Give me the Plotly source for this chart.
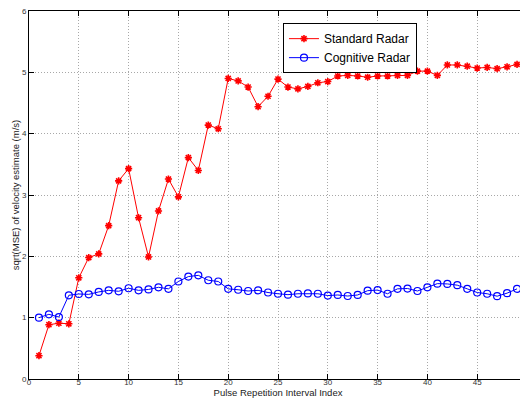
import plotly.graph_objects as go

x_index = list(range(1, 50))
standard_radar = [0.38, 0.885, 0.91, 0.90, 1.65, 1.98, 2.04, 2.50, 3.23, 3.43,
                  2.63, 1.99, 2.74, 3.26, 2.97, 3.61, 3.40, 4.14, 4.08, 4.90,
                  4.86, 4.76, 4.44, 4.61, 4.89, 4.76, 4.73, 4.77, 4.83, 4.85,
                  4.94, 4.95, 4.94, 4.92, 4.94, 4.94, 4.95, 4.95, 5.02, 5.02,
                  4.95, 5.12, 5.12, 5.10, 5.07, 5.08, 5.06, 5.09, 5.13]
cognitive_radar = [1.00, 1.055, 1.01, 1.365, 1.386, 1.38, 1.42, 1.445, 1.43, 1.48,
                   1.445, 1.46, 1.495, 1.47, 1.59, 1.67, 1.69, 1.61, 1.59, 1.47,
                   1.455, 1.435, 1.445, 1.41, 1.39, 1.375, 1.39, 1.395, 1.39, 1.36,
                   1.37, 1.353, 1.37, 1.44, 1.45, 1.39, 1.47, 1.475, 1.435, 1.495,
                   1.555, 1.55, 1.53, 1.47, 1.41, 1.39, 1.35, 1.40, 1.47]
x_ticks = [0, 5, 10, 15, 20, 25, 30, 35, 40, 45, 50]
y_ticks = [0, 1, 2, 3, 4, 5, 6]

fig = go.Figure()
fig.add_trace(go.Scatter(x=x_index, y=standard_radar, name="Standard Radar",
                         mode="lines+markers",
                         line=dict(color="#ff0000", width=1),
                         marker=dict(symbol="asterisk-open", size=6, color="#ff0000",
                                     line=dict(width=1.6, color="#ff0000"))))
fig.add_trace(go.Scatter(x=x_index, y=cognitive_radar, name="Cognitive Radar",
                         mode="lines+markers",
                         line=dict(color="#0000ff", width=1),
                         marker=dict(symbol="circle-open", size=7, color="#0000ff",
                                     line=dict(width=1.2))))

axis_common = dict(showline=True, linecolor="black", linewidth=1, mirror="ticks",
                   ticks="inside", ticklen=5, tickcolor="black",
                   showgrid=True, gridcolor="#a8a8a8", griddash="1px,2px", gridwidth=1,
                   zeroline=False, tickfont=dict(size=8, color="#333"),
                   automargin=False, ticklabeloverflow="allow")

fig.update_layout(
    width=520, height=391,
    margin=dict(l=21, r=1, t=3, b=20),
    paper_bgcolor="white", plot_bgcolor="white",
    font=dict(family="Liberation Sans, Arial, sans-serif", color="#222"),
    xaxis=dict(range=[0, 50], tickvals=x_ticks, **axis_common, ticklabelstandoff=-5,
               title=dict(text="Pulse Repetition Interval Index", font=dict(size=9.5), standoff=0)),
    yaxis=dict(range=[0, 6], tickvals=y_ticks, **axis_common,
               title=dict(text="sqrt(MSE) of velocity estimate (m/s)", font=dict(size=9.5), standoff=0)),
    legend=dict(x=0.51, y=0.967, xanchor="left", yanchor="top",
                bordercolor="black", borderwidth=1, bgcolor="white",
                font=dict(size=12, color="black"), tracegroupgap=0,
                itemwidth=30),
    showlegend=True,
)

fig.write_html("out.html")
